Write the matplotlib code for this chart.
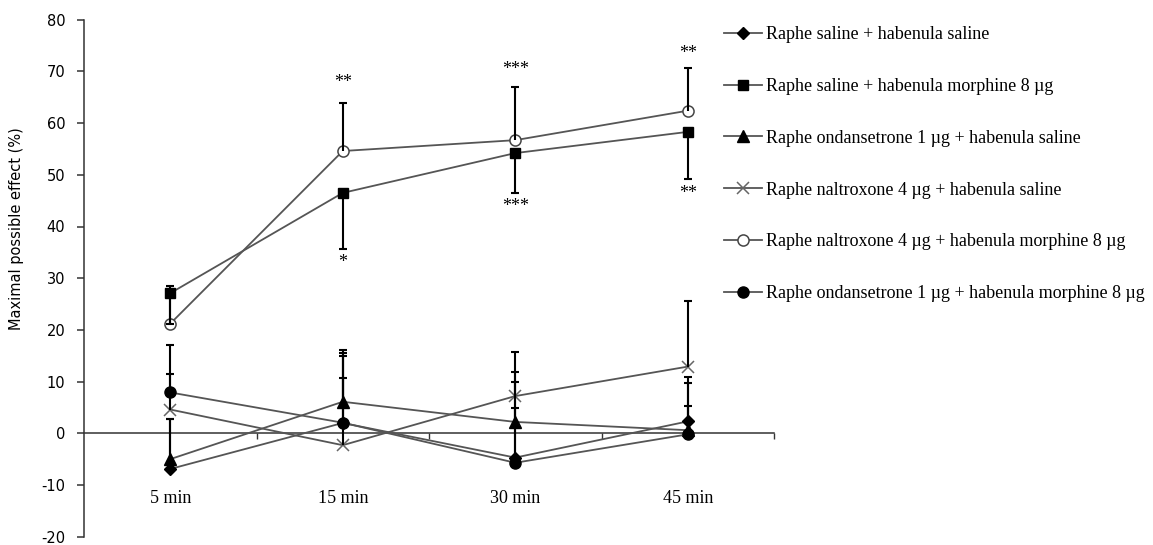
import numpy as np
import matplotlib
matplotlib.use("Agg")
import matplotlib.pyplot as plt

plt.rcParams["axes.unicode_minus"] = False

# %% datos
tiempos = ["5 min", "15 min", "30 min", "45 min"]

labels = [
    "Raphe saline + habenula saline",
    "Raphe saline + habenula morphine 8 µg",
    "Raphe ondansetrone 1 µg + habenula saline",
    "Raphe naltroxone 4 µg + habenula saline",
    "Raphe naltroxone 4 µg + habenula morphine 8 µg",
    "Raphe ondansetrone 1 µg + habenula morphine 8 µg",
]

sal_sal = [-6.9, 2.0, -4.7, 2.3]
sal_mor = [27.1, 46.5, 54.2, 58.3]
ond_sal = [-5.0, 6.1, 2.2, 0.6]
nal_sal = [4.6, -2.3, 7.2, 12.9]
nal_mor = [21.2, 54.6, 56.7, 62.4]
ond_mor = [7.9, 2.05, -5.7, -0.2]

# errores (solo en una direccion, como en el original)
err_sal_sal = [9.6, 13.0, 14.6, 8.6]
err_sal_mor = [6.0, 10.9, 7.7, 9.2]  # hacia abajo
err_ond_sal = [7.7, 10.1, 9.7, 9.2]
err_nal_sal = [6.9, 12.9, 8.6, 12.7]
err_nal_mor = [7.3, 9.2, 10.2, 8.3]
err_ond_mor = [9.1, 13.5, 10.5, 5.5]

# asteriscos de significancia: (tiempo, valor, texto)
stars_tiempo = [1, 1, 2, 2, 3, 3]
stars_valor = [67.8, 33.0, 70.3, 43.8, 73.4, 46.4]
stars_texto = ["**", "*", "***", "***", "**", "**"]

# %% grafico
W, H = 1153, 545
fig = plt.figure(figsize=(W / 100, H / 100), dpi=100)
y_top, y_bot = 19.7, 536.7
ax = fig.add_axes([84 / W, (H - y_bot) / H, (774 - 84) / W, (y_bot - y_top) / H])

x = np.arange(len(tiempos)) + 0.5
line_c = "#555555"

series = [
    (sal_sal, err_sal_sal, +1, dict(marker="D", ms=6, mfc="black", mec="black")),
    (sal_mor, err_sal_mor, -1, dict(marker="s", ms=7.5, mfc="black", mec="black")),
    (ond_sal, err_ond_sal, +1, dict(marker="^", ms=8, mfc="black", mec="black")),
    (nal_sal, err_nal_sal, +1, dict(marker="x", ms=9, mec="#666666", mew=1.1)),
    (nal_mor, err_nal_mor, +1, dict(marker="o", ms=8, mfc="white", mec="#444444", mew=1.1)),
    (ond_mor, err_ond_mor, +1, dict(marker="o", ms=8, mfc="black", mec="black")),
]

handles = []
for (vals, errs, sign, mk), lab in zip(series, labels):
    vals = np.array(vals)
    errs = np.array(errs)
    (h,) = ax.plot(x, vals, color=line_c, lw=1.3, label=lab, zorder=3, **mk)
    handles.append(h)
    tips = vals + sign * errs
    ax.vlines(x, vals, tips, color="black", lw=1.5, zorder=4)
    ax.plot(x, tips, ls="none", marker="_", ms=6, mew=1.5, color="black", zorder=4)

for t, v, s in zip(stars_tiempo, stars_valor, stars_texto):
    ax.text(x[t], v, s, ha="center", va="center", fontsize=13,
            family="Liberation Serif", color="black")

ax.spines["top"].set_visible(False)
ax.spines["right"].set_visible(False)
ax.spines["bottom"].set_position(("data", 0))
for sp in ("left", "bottom"):
    ax.spines[sp].set_linewidth(1.1)
    ax.spines[sp].set_color("#333333")

ax.set_xlim(0, 4)
ax.set_ylim(-20, 80)
ax.set_yticks(np.arange(-20, 81, 10))
ax.set_xticks(x)
ax.set_xticklabels(tiempos)
ax.set_xticks([1, 2, 3, 4], minor=True)
ax.tick_params(axis="x", which="major", length=0, pad=41,
               labelsize=13, labelfontfamily="Liberation Serif")
ax.tick_params(axis="x", which="minor", length=4, width=1, direction="out", color="#333333")
ax.tick_params(axis="y", length=5, width=1.1, pad=8.5, labelsize=10.5,
               color="#333333", labelfontfamily="DejaVu Sans")

fig.text(17 / W, 1 - 229 / H, "Maximal possible effect (%)", rotation=90,
         ha="center", va="center", fontsize=10.5, family="DejaVu Sans")

fig.legend(handles, labels, loc="upper left", bbox_to_anchor=(724 / W, 1 - 26 / H),
           frameon=False, prop={"family": "Liberation Serif", "size": 13},
           handlelength=2.1, handletextpad=0.2, labelspacing=1.93,
           borderpad=0, borderaxespad=0, numpoints=1)

fig.savefig("out.png", dpi=100)
